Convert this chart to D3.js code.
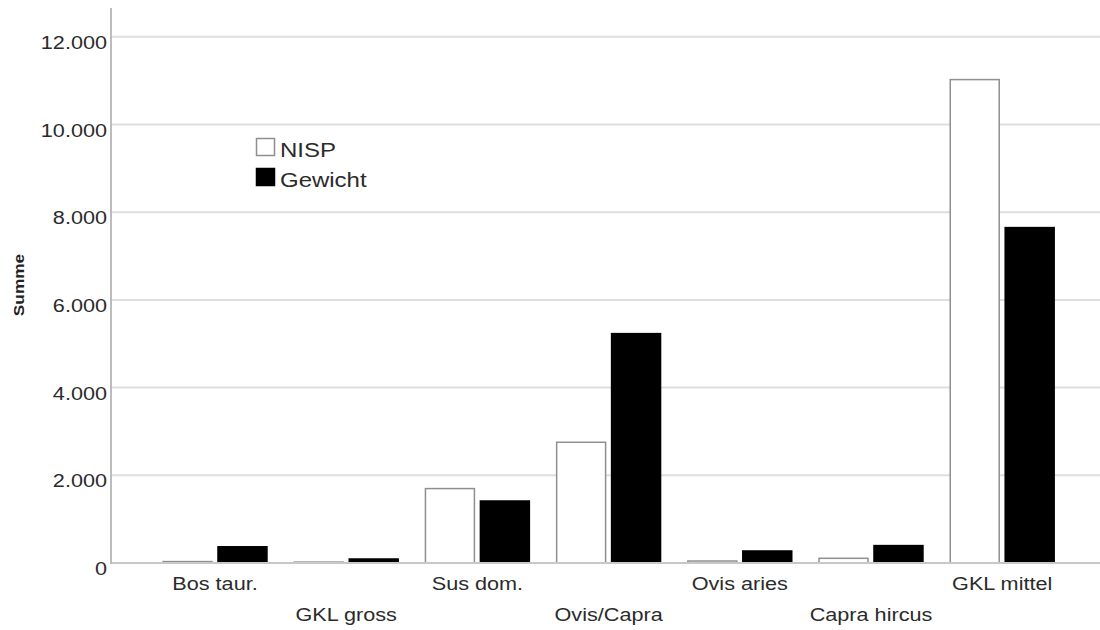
<!DOCTYPE html>
<html><head><meta charset="utf-8">
<script src="https://cdn.jsdelivr.net/npm/d3@7"></script>
<style>
html,body{margin:0;padding:0;background:#fff;}
svg{display:block;font-family:"Liberation Sans",Arial,sans-serif;}
</style></head>
<body>
<svg id="chart" width="1100" height="630"></svg>
<script>
const categories = ["Bos taur.","GKL gross","Sus dom.","Ovis/Capra","Ovis aries","Capra hircus","GKL mittel"];
const series = ["NISP","Gewicht"];
const nispValues = [32, 20, 1697, 2753, 45, 107, 11024];
const gewichtValues = [370, 91, 1414, 5231, 274, 397, 7649];
const yTicks = [0, 2000, 4000, 6000, 8000, 10000, 12000];
const yLabel = "Summe";

const W = 1100, H = 630;
const svg = d3.select("#chart");
const axisX = 111, baseY = 563, topY = 36.8;
const k = 1.17; // horizontal text stretch

const y = d3.scaleLinear().domain([0, 12000]).range([baseY, topY]);
const x0 = d3.scaleBand().domain(categories).range([149.4, 1067.8]).paddingInner(0.208).paddingOuter(0.104);
const x1 = d3.scaleBand().domain(series).range([0, x0.bandwidth()]).paddingInner(0.109);

const de = d3.formatLocale({decimal: ",", thousands: ".", grouping: [3], currency: ["", "€"]});
const fmt = de.format(",d");

function stretch(sel, f) {
  sel.each(function() {
    const t = d3.select(this);
    const xv = +t.attr("x") || 0;
    t.attr("x", xv / f).attr("transform", `scale(${f},1)`);
  });
}

// gridlines
svg.append("g").selectAll("line").data(yTicks.filter(d => d > 0)).join("line")
  .attr("x1", axisX).attr("x2", W)
  .attr("y1", d => y(d)).attr("y2", d => y(d))
  .attr("stroke", "#dedede").attr("stroke-width", 2);

// bars
const data = categories.map((c, i) => ({cat: c, vals: [
  {s: "NISP", v: nispValues[i]}, {s: "Gewicht", v: gewichtValues[i]}]}));
const gBars = svg.append("g");
gBars.selectAll("g").data(data).join("g")
  .attr("transform", d => `translate(${x0(d.cat)},0)`)
  .selectAll("rect").data(d => d.vals).join("rect")
  .attr("x", d => x1(d.s)).attr("width", x1.bandwidth())
  .attr("y", d => y(d.v)).attr("height", d => y(0) - y(d.v))
  .attr("fill", d => d.s === "NISP" ? "#fff" : "#000")
  .attr("stroke", d => d.s === "NISP" ? "#8f8f8f" : "#000")
  .attr("stroke-width", 1.5);

// baseline and y axis line
svg.append("line").attr("x1", axisX).attr("x2", W).attr("y1", baseY).attr("y2", baseY)
  .attr("stroke", "#c8c8c8").attr("stroke-width", 2);
svg.append("line").attr("x1", axisX).attr("x2", axisX).attr("y1", 8).attr("y2", baseY + 1)
  .attr("stroke", "#bcbcbc").attr("stroke-width", 2);

// y axis labels
const gy = svg.append("g").attr("transform", `translate(${axisX},0)`)
  .call(d3.axisLeft(y).tickValues(yTicks).tickFormat(fmt).tickSize(0).tickPadding(4));
gy.select(".domain").remove();
gy.selectAll("text").attr("dy", 11.5).attr("font-size", 18.5).attr("fill", "#2b2b2b")
  .attr("font-family", "Liberation Sans, Arial, sans-serif");
stretch(gy.selectAll("text"), k);

// x axis labels
const gx = svg.append("g").attr("transform", `translate(0,${baseY})`)
  .call(d3.axisBottom(x0).tickSize(0));
gx.select(".domain").remove();
gx.selectAll("text").attr("dy", 0).attr("y", (d, i) => i % 2 === 0 ? 27 : 58.5)
  .attr("font-size", 18.5).attr("fill", "#2b2b2b")
  .attr("font-family", "Liberation Sans, Arial, sans-serif");
stretch(gx.selectAll("text"), k);

// y label
svg.append("text").attr("transform", "translate(23.5,285) rotate(-90) scale(1.15,1)")
  .attr("text-anchor", "middle").attr("font-size", 15).attr("font-weight", "bold")
  .attr("fill", "#222").text(yLabel);

// legend
const lg = svg.append("g").selectAll("g").data(series).join("g")
  .attr("transform", (d, i) => `translate(256,${138 + i * 30})`);
lg.append("rect").attr("x", 0.5).attr("y", 0.5).attr("width", 18).attr("height", 17)
  .attr("fill", d => d === "NISP" ? "#fff" : "#000")
  .attr("stroke", d => d === "NISP" ? "#8f8f8f" : "#000").attr("stroke-width", 1.5);
lg.append("text").attr("x", 24).attr("y", 19).attr("font-size", 20.5).attr("fill", "#2b2b2b")
  .text(d => d);
stretch(lg.selectAll("text"), k);
</script>
</body></html>
